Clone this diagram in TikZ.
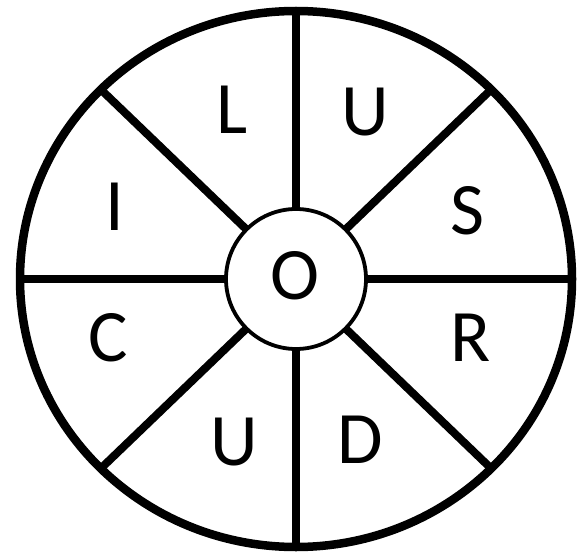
\documentclass[tikz,border=0pt]{standalone}
\usepackage{fontspec}
\setmainfont{Carlito}
\usetikzlibrary{calc}
\begin{document}
\begin{tikzpicture}[x=1pt,y=-1pt,
  spoke/.style={line width=8pt},
  letter/.style={inner sep=0pt,font=\fontsize{74}{74}\selectfont}]
\useasboundingbox (0,0) rectangle (586,556);
\coordinate (c) at (296,279);
% outer rim
\draw[line width=8.5pt] (c) ellipse [x radius=276, y radius=268];
% spokes
\foreach \a in {0,45,...,315}{
  \draw[spoke] ($(c)+({70*cos(\a)},{70*sin(\a)})$) -- ($(c)+({276*cos(\a)},{268*sin(\a)})$);
}
% hub
\draw[line width=3.8pt, fill=white] (c) circle [radius=70];
% letters
\node[letter] (o)  at (295,276) {O};
\node[letter] (l)  at (232,110) {L};
\node[letter] (u1) at (365,112) {U};
\node[letter] (s)  at (467,211) {S};
\node[letter] (i)  at (115,207) {I};
\node[letter] (cc) at (108,338) {C};
\node[letter] (r)  at (471,338) {R};
\node[letter] (u2) at (234,442) {U};
\node[letter] (d)  at (360,440) {D};
\end{tikzpicture}
\end{document}
